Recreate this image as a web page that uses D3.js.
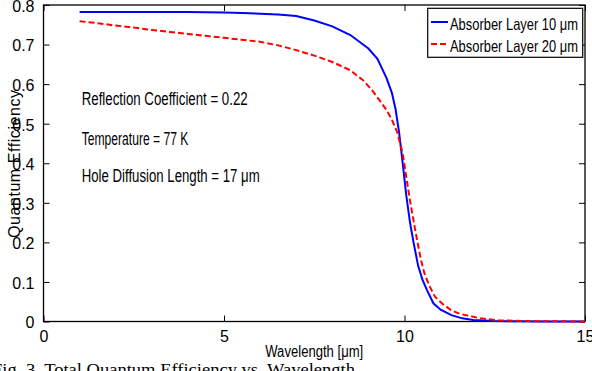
<!DOCTYPE html>
<html><head><meta charset="utf-8">
<script src="https://cdn.jsdelivr.net/npm/d3@7"></script>
<style>
html,body{margin:0;padding:0;background:#fff;overflow:hidden}
svg{display:block}
text{font-family:"Liberation Sans Narrow","Liberation Sans",Arial,sans-serif;fill:#000}
</style></head><body>
<svg id="c" width="592" height="371"></svg>
<script>
// ---- data ----
const wl10 = [1,2,3,4,5,5.5,6,6.5,7,7.5,8,8.5,9,9.25,9.5,9.65,9.75,9.85,9.95,10.05,10.15,10.25,10.38,10.5,10.62,10.8,11.0,11.3,11.6,11.9,12.5,13,14,15];
const qe10 = [0.782,0.782,0.782,0.782,0.781,0.780,0.778,0.776,0.772,0.761,0.746,0.724,0.690,0.664,0.616,0.578,0.538,0.478,0.400,0.318,0.252,0.200,0.140,0.105,0.080,0.046,0.030,0.016,0.008,0.004,0.0012,0.0005,0.0001,0];
const wl20 = [1,1.5,2,2.5,3,3.5,4,4.5,5,5.5,6,6.5,7,7.5,8,8.5,8.85,9.1,9.3,9.5,9.65,9.8,9.95,10.05,10.15,10.25,10.35,10.45,10.55,10.7,10.85,11.05,11.3,11.55,12.1,12.6,13.5,15];
const qe20 = [0.759,0.754,0.748,0.743,0.737,0.732,0.727,0.722,0.717,0.712,0.707,0.698,0.686,0.672,0.656,0.635,0.610,0.585,0.560,0.535,0.510,0.478,0.425,0.365,0.307,0.255,0.205,0.158,0.122,0.088,0.062,0.045,0.028,0.019,0.008,0.003,0.001,0];
const xTicks = [0,5,10,15];
const yTicks = [0,0.1,0.2,0.3,0.4,0.5,0.6,0.7,0.8];
const seriesNames = ["Absorber Layer 10 \u03bcm","Absorber Layer 20 \u03bcm"];
const notes = ["Reflection Coefficient = 0.22","Temperature = 77 K","Hole Diffusion Length = 17 \u03bcm"];
const xLabel = "Wavelength [\u03bcm]";
const yLabel = "Quantum Efficiency";
const caption = "Fig. 3. Total Quantum Efficiency vs. Wavelength";

// ---- layout ----
const L=43.5, R=585, T=5, B=321.5;
const svg = d3.select("#c");
const x = d3.scaleLinear().domain([0,15]).range([L,R]);
const y = d3.scaleLinear().domain([0,0.8]).range([B,T]);

// axes (ticks inward)
const tl = 6;
svg.append("g").attr("transform",`translate(0,${B})`)
  .call(d3.axisBottom(x).tickValues(xTicks).tickFormat(d3.format("d")).tickSize(-tl).tickPadding(9))
  .call(g=>{g.select(".domain").remove();g.selectAll("text").attr("font-size",16).attr("font-family",null).attr("dy","0.72em");g.selectAll("line").attr("stroke","#000");});
svg.append("g").attr("transform",`translate(0,${T})`)
  .call(d3.axisTop(x).tickValues(xTicks).tickFormat("").tickSize(-tl))
  .call(g=>{g.select(".domain").remove();g.selectAll("line").attr("stroke","#000");});
svg.append("g").attr("transform",`translate(${L},0)`)
  .call(d3.axisLeft(y).tickValues(yTicks).tickFormat(d=>d===0?"0":d3.format(".1f")(d)).tickSize(-tl).tickPadding(9))
  .call(g=>{g.select(".domain").remove();g.selectAll("text").attr("font-size",16).attr("font-family",null).attr("dy","0.4em");g.selectAll("line").attr("stroke","#000");});
svg.append("g").attr("transform",`translate(${R},0)`)
  .call(d3.axisRight(y).tickValues(yTicks).tickFormat("").tickSize(-tl))
  .call(g=>{g.select(".domain").remove();g.selectAll("line").attr("stroke","#000");});

// frame
svg.append("rect").attr("x",L).attr("y",T).attr("width",R-L).attr("height",B-T)
  .attr("fill","none").attr("stroke","#000").attr("stroke-width",1.3);

// lines
const line = d3.line().x(d=>x(d[0])).y(d=>y(d[1]));
svg.append("path").datum(d3.zip(wl10,qe10)).attr("d",line)
  .attr("fill","none").attr("stroke","#0000ff").attr("stroke-width",2);
svg.append("path").datum(d3.zip(wl20,qe20)).attr("d",line)
  .attr("fill","none").attr("stroke","#ff0000").attr("stroke-width",2).attr("stroke-dasharray","6,3");

// annotations
const noteY=[105,145,181.7], noteW=[166,106.7,178];
notes.forEach((t,i)=>{
  svg.append("text").attr("x",81.7).attr("y",noteY[i]).attr("font-size",17.5)
    .attr("textLength",noteW[i]).attr("lengthAdjust","spacingAndGlyphs").text(t);
});

// legend
const lg = svg.append("g");
lg.append("rect").attr("x",427.7).attr("y",8.3).attr("width",155).attr("height",49)
  .attr("fill","#fff").attr("stroke","#000").attr("stroke-width",1.2);
const colors=["#0000ff","#ff0000"], dashes=[null,"6,3"], ly=[22,44];
seriesNames.forEach((s,i)=>{
  lg.append("line").attr("x1",431).attr("x2",448).attr("y1",ly[i]).attr("y2",ly[i])
    .attr("stroke",colors[i]).attr("stroke-width",2).attr("stroke-dasharray",dashes[i]);
  lg.append("text").attr("x",450).attr("y",ly[i]+7.5).attr("font-size",16.5)
    .attr("textLength",128).attr("lengthAdjust","spacingAndGlyphs").text(s);
});

// axis labels
svg.append("text").attr("x",(L+R)/2).attr("y",356.7).attr("text-anchor","middle")
  .attr("font-size",16).attr("textLength",98).attr("lengthAdjust","spacingAndGlyphs").text(xLabel);
svg.append("text").attr("transform","translate(20,164) rotate(-90)").attr("text-anchor","middle")
  .attr("font-size",16).attr("textLength",148).attr("lengthAdjust","spacing").text(yLabel);

// caption
svg.append("text").attr("x",-8).attr("y",375).attr("font-size",17)
  .style("font-family","'Liberation Serif','Times New Roman',serif")
  .attr("textLength",363).attr("lengthAdjust","spacingAndGlyphs").text(caption);
</script>
</body></html>
